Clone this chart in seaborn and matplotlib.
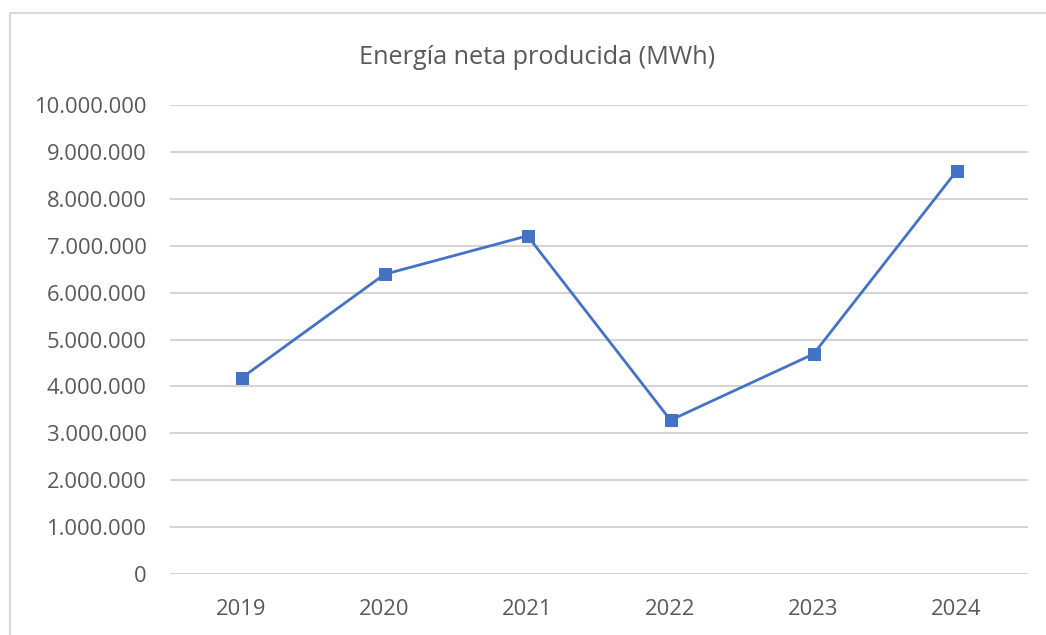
import numpy as np
import pandas as pd
import matplotlib.pyplot as plt
import matplotlib.ticker as mticker
from matplotlib.lines import Line2D
import seaborn as sns

years = ['2019', '2020', '2021', '2022', '2023', '2024']
energia = [4180000, 6390000, 7210000, 3280000, 4690000, 8590000]

df = pd.DataFrame({'year': years, 'mwh': energia})

sns.set_style('white')
plt.rcParams['font.family'] = ['Open Sans', 'DejaVu Sans']

fig = plt.figure(figsize=(10.46, 6.35), dpi=100)
ax = fig.add_axes([170 / 1046, 1 - 574 / 635, (1028 - 170) / 1046, (574 - 105) / 635])

sns.lineplot(data=df, x='year', y='mwh', marker='s', markersize=8, color='#4472C4',
             markeredgecolor='#4472C4', linewidth=2, sort=False, ax=ax)

ax.set_xlim(-0.5, 5.5)
ax.set_ylim(0, 10000000)
ax.yaxis.set_major_locator(mticker.MultipleLocator(1000000))
ax.yaxis.set_major_formatter(mticker.FuncFormatter(lambda v, p: f'{int(v):,}'.replace(',', '.')))
ax.grid(axis='y', color='#d4d4d4', linewidth=1.5)
ax.set_axisbelow(True)
for s in ax.spines.values():
    s.set_visible(False)
ax.tick_params(axis='both', length=0, labelsize=15.8, colors='#595959')
ax.tick_params(axis='y', pad=17)
ax.tick_params(axis='x', pad=18)
ax.set_xlabel('')
ax.set_ylabel('')

fig.text(537 / 1046, 1 - 57 / 635, 'Energía neta producida (MWh)', ha='center', va='center',
         fontsize=18.2, color='#595959')

# chart border (top and left edges visible)
fig.add_artist(Line2D([10 / 1046, 10 / 1046], [0, 1 - 13 / 635], transform=fig.transFigure,
                      color='#d9d9d9', linewidth=1.5))
fig.add_artist(Line2D([10 / 1046, 1], [1 - 13 / 635, 1 - 13 / 635], transform=fig.transFigure,
                      color='#d9d9d9', linewidth=1.5))

fig.savefig('out.png', dpi=100)
